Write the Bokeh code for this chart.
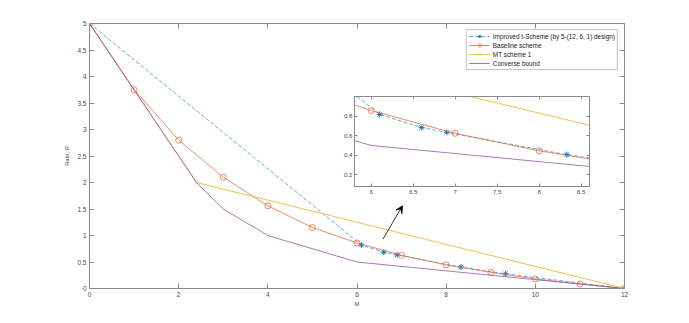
from bokeh.plotting import figure
from bokeh.layouts import column
from bokeh.models import Range1d, FixedTicker, LinearAxis, Arrow, VeeHead
from bokeh.embed import file_html
from bokeh.resources import INLINE

# ---------------- data ----------------
improved_M = [0, 6.1, 6.6, 6.9, 8.33, 9.33, 12]
improved_R = [5, 0.82, 0.685, 0.635, 0.405, 0.275, 0]

baseline_M = [0, 1, 2, 3, 4, 5, 6, 7, 8, 9, 10, 11, 12]
baseline_R = [5, 3.75, 2.8, 2.1, 1.56, 1.15, 0.86, 0.625, 0.445, 0.305, 0.18, 0.085, 0]

mt_M = [0, 2.4, 12]
mt_R = [5, 2.0, 0]

converse_M = [0, 1, 2.4, 3, 4, 6, 12]
converse_R = [5, 3.75, 2.0, 1.5, 1.0, 0.5, 0]

x_ticks = [0, 2, 4, 6, 8, 10, 12]
y_ticks = [0, 0.5, 1, 1.5, 2, 2.5, 3, 3.5, 4, 4.5, 5]
inset_x_ticks = [6, 6.5, 7, 7.5, 8, 8.5]
inset_y_ticks = [0.2, 0.4, 0.6, 0.8]

labels = ["Improved t-Scheme (by 5-(12, 6, 1) design)", "Baseline scheme",
          "MT scheme 1", "Converse bound"]

arrow_start = (6.58, 0.93)
arrow_end = (7.02, 1.56)

# ---------------- style ----------------
FONT = "Liberation Sans"
AX = "#8a8a8a"
TXT = "#4a4a4a"
BLUE_LINE = "#4da3dd"
BLUE = "#0072BD"
ORANGE = "#e2713f"
YELLOW = "#EDB120"
PURPLE = "#9a55ad"


def lbl(v):
    return ("%g" % v)


def style_axis(ax, fs, tick_len, ticks, show_labels=True):
    ax.ticker = FixedTicker(ticks=ticks)
    ax.axis_line_color = AX
    ax.axis_line_width = 1
    ax.major_tick_line_color = AX
    ax.major_tick_in = tick_len
    ax.major_tick_out = 0
    ax.minor_tick_line_color = None
    ax.major_label_text_font = FONT
    ax.major_label_text_font_size = fs
    ax.major_label_text_color = TXT
    ax.major_label_standoff = 3
    if show_labels:
        ax.major_label_overrides = {t: lbl(t) for t in ticks}
    else:
        ax.major_label_overrides = {t: "" for t in ticks}


def add_series(fig, with_legend):
    kw = lambda i: {"legend_label": labels[i]} if with_legend else {}
    fig.line(improved_M, improved_R, line_color=BLUE_LINE, line_width=0.9,
             line_dash="4 2", **kw(0))
    fig.scatter(improved_M, improved_R, marker="asterisk", size=6,
                line_color=BLUE, line_width=0.9, **kw(0))
    fig.line(baseline_M, baseline_R, line_color=ORANGE, line_width=0.8, **kw(1))
    fig.scatter(baseline_M, baseline_R, marker="circle", size=6,
                line_color=ORANGE, fill_color=None, line_width=0.8, **kw(1))
    fig.line(mt_M, mt_R, line_color=YELLOW, line_width=0.8, **kw(2))
    fig.scatter(mt_M, mt_R, marker="x", size=4, line_color=YELLOW,
                line_width=0.8, **kw(2))
    fig.line(converse_M, converse_R, line_color=PURPLE, line_width=0.8, **kw(3))


# ---------------- main figure ----------------
p = figure(frame_width=535, frame_height=265,
           x_range=Range1d(0, 12), y_range=Range1d(0, 5),
           output_backend="svg", toolbar_location=None,
           min_border_left=89, min_border_right=57,
           min_border_top=23, min_border_bottom=27)
p.frame_align = False
p.background_fill_color = "white"
p.border_fill_color = "white"
p.outline_line_color = AX
p.xgrid.visible = False
p.ygrid.visible = False

style_axis(p.xaxis[0], "6.5px", 5, x_ticks)
style_axis(p.yaxis[0], "6.5px", 5, y_ticks)
p.xaxis.axis_label = "M"
p.yaxis.axis_label = "Rate, R"
for ax in (p.xaxis[0], p.yaxis[0]):
    ax.axis_label_text_font = FONT
    ax.axis_label_text_font_size = "5.8px"
    ax.axis_label_text_font_style = "normal"
    ax.axis_label_text_color = TXT
p.xaxis.axis_label_standoff = 1
p.yaxis.axis_label_standoff = 4

top_ax = LinearAxis()
right_ax = LinearAxis()
style_axis(top_ax, "6.5px", 5, x_ticks, show_labels=False)
style_axis(right_ax, "6.5px", 5, y_ticks, show_labels=False)
p.add_layout(top_ax, "above")
p.add_layout(right_ax, "right")

add_series(p, True)

lg = p.legend[0]
lg.location = "top_right"
lg.margin = 6
lg.padding = 2
lg.spacing = 1
lg.label_height = 8
lg.glyph_height = 8
lg.glyph_width = 21
lg.label_standoff = 3
lg.label_text_font = FONT
lg.label_text_font_size = "6.4px"
lg.label_text_color = "#222222"
lg.border_line_color = AX
lg.border_line_width = 1
lg.background_fill_color = "white"
lg.background_fill_alpha = 1

p.add_layout(Arrow(x_start=arrow_start[0], y_start=arrow_start[1],
                   x_end=arrow_end[0], y_end=arrow_end[1],
                   line_color="black", line_width=0.8,
                   end=VeeHead(size=7, fill_color="black", line_color="black",
                               line_width=0.8)))

# ---------------- inset figure ----------------
inset = figure(frame_width=235, frame_height=90,
               x_range=Range1d(5.8, 8.6), y_range=Range1d(0.077, 1.005),
               output_backend="svg", toolbar_location=None,
               min_border_left=30, min_border_right=5,
               min_border_top=5, min_border_bottom=15)
inset.frame_align = False
inset.background_fill_color = "white"
inset.border_fill_alpha = 0
inset.outline_line_color = AX
inset.xgrid.visible = False
inset.ygrid.visible = False
style_axis(inset.xaxis[0], "6.2px", 3, inset_x_ticks)
style_axis(inset.yaxis[0], "6.2px", 3, inset_y_ticks)
inset.yaxis.major_label_standoff = 2
it = LinearAxis()
ir = LinearAxis()
style_axis(it, "6.2px", 3, inset_x_ticks, show_labels=False)
style_axis(ir, "6.2px", 3, inset_y_ticks, show_labels=False)
inset.add_layout(it, "above")
inset.add_layout(ir, "right")
add_series(inset, False)
inset.styles = {"position": "absolute", "left": "324px", "top": "91px"}

layout = column(p, inset)

open("out.html", "w").write(file_html(layout, INLINE))
